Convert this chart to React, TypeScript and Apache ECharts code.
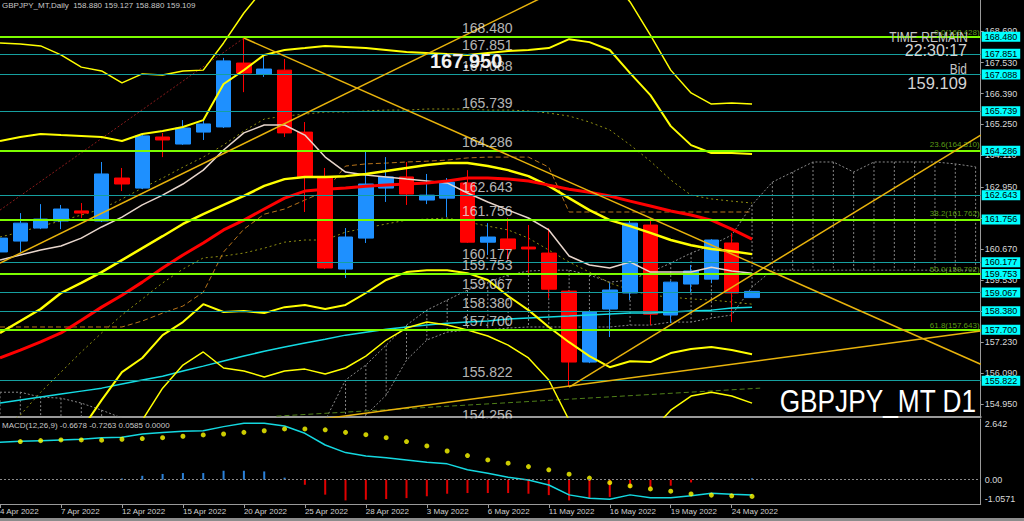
import React, { useEffect, useRef } from 'react';
import * as echarts from 'echarts';

const FONT = '"Liberation Sans", Arial, sans-serif';

const dates = ['4 Apr 2022','5 Apr 2022','6 Apr 2022','7 Apr 2022','8 Apr 2022','11 Apr 2022','12 Apr 2022','13 Apr 2022','14 Apr 2022','15 Apr 2022','18 Apr 2022','19 Apr 2022','20 Apr 2022','21 Apr 2022','22 Apr 2022','25 Apr 2022','26 Apr 2022','27 Apr 2022','28 Apr 2022','29 Apr 2022','2 May 2022','3 May 2022','4 May 2022','5 May 2022','6 May 2022','9 May 2022','10 May 2022','11 May 2022','12 May 2022','13 May 2022','16 May 2022','17 May 2022','18 May 2022','19 May 2022','20 May 2022','23 May 2022','24 May 2022','25 May 2022'];

const opens = [160.56,160.96,161.44,161.70,162.07,161.70,163.28,162.91,164.79,164.53,164.97,165.16,167.51,167.11,167.25,164.97,163.28,159.93,161.07,162.91,163.32,162.47,162.54,163.10,160.92,161.04,160.74,160.52,159.12,156.51,158.46,159.05,161.55,158.24,159.38,159.56,160.89,158.88];
const closes = [161.07,161.62,161.77,162.14,161.99,163.43,163.06,164.83,164.68,165.12,165.27,167.59,167.14,167.29,164.94,163.32,159.97,161.11,163.06,163.32,162.69,162.65,163.13,160.92,161.11,160.67,160.67,159.19,156.51,158.35,159.16,161.62,158.27,159.45,159.86,161.00,159.05,159.109];
const lows = [160.52,160.56,161.40,161.40,161.81,161.66,162.80,162.87,164.05,164.50,164.68,165.12,166.44,167.00,164.79,162.03,159.93,159.60,160.89,162.40,162.29,162.32,161.84,160.89,160.45,160.26,159.78,158.86,155.59,156.47,157.43,158.79,157.87,157.95,159.08,159.41,157.98,158.88];
const highs = [161.15,161.99,162.32,162.29,162.36,163.87,163.65,164.90,164.94,165.41,165.45,167.70,168.43,167.84,167.66,165.34,163.65,161.44,164.27,164.05,163.87,163.43,163.28,163.57,161.62,161.81,161.55,161.44,159.16,158.42,159.41,161.77,161.81,159.49,160.08,161.03,161.26,159.127];

const maRed = [156.66,156.95,157.25,157.58,158.05,158.53,158.97,159.45,159.97,160.45,160.89,161.37,161.73,162.14,162.54,162.80,162.87,162.91,162.98,163.02,163.06,163.10,163.17,163.28,163.28,163.24,163.17,163.02,162.87,162.76,162.62,162.43,162.25,162.07,161.92,161.73,161.40,161.03];
const maFast = [160.26,160.45,160.63,160.78,161.07,161.48,161.84,162.29,162.65,163.06,163.57,164.31,164.94,165.23,165.23,164.86,164.05,163.50,163.39,163.32,163.24,163.17,163.10,162.73,162.40,162.10,161.81,161.37,160.41,160.08,159.97,160.19,159.82,159.82,159.82,160.00,159.86,159.78];
const maLong = [155.00,155.11,155.22,155.33,155.44,155.55,155.70,155.85,155.99,156.18,156.36,156.55,156.73,156.91,157.06,157.21,157.35,157.50,157.61,157.72,157.80,157.87,157.94,157.98,158.02,158.09,158.13,158.17,158.20,158.24,158.28,158.31,158.31,158.35,158.39,158.42,158.50,158.53];
const bbMid = [157.58,158.02,158.46,159.05,159.42,159.82,160.26,160.70,161.14,161.59,161.95,162.29,162.62,162.99,163.24,163.32,163.32,163.35,163.43,163.54,163.65,163.76,163.83,163.83,163.72,163.57,163.35,162.99,162.54,162.10,161.73,161.51,161.26,161.00,160.81,160.67,160.59,160.48];
const bbUp2 = [164.64,164.79,164.90,164.86,164.83,164.79,164.64,164.90,165.01,165.16,165.41,166.74,167.25,167.81,167.99,168.06,168.14,168.10,168.06,167.99,167.92,167.88,167.84,167.81,167.88,167.95,167.99,168.06,168.39,168.28,167.99,167.14,166.33,165.19,164.49,164.20,164.20,164.16];
const bbUp3 = [168.25,168.21,168.14,167.81,167.36,167.22,166.78,167.11,167.07,167.22,167.25,168.25,169.35,170.27,170.57,170.71,170.79,170.82,170.82,170.79,170.75,170.71,170.71,170.71,170.75,170.79,170.82,170.86,170.93,170.86,170.64,169.76,168.54,167.25,166.41,166.00,166.04,166.00];
const bbLow2 = [150.51,151.25,152.02,153.23,154.01,155.11,156.14,156.66,157.50,157.98,158.64,158.35,158.39,158.31,158.53,158.61,158.46,158.61,159.05,159.53,159.82,159.89,159.89,159.78,159.53,158.94,158.42,157.80,157.24,156.73,156.32,156.54,156.51,156.84,156.99,157.06,156.95,156.80];
const bbLow3 = [146.98,147.86,148.82,150.33,151.32,152.31,153.45,154.37,155.55,156.40,156.88,156.29,156.18,155.96,156.18,156.25,156.07,156.29,156.73,157.32,157.76,157.98,157.87,157.69,157.47,157.13,156.66,155.85,154.37,153.64,153.27,153.64,153.93,154.74,155.26,155.40,155.26,155.00];

const ichiLineA = [161.11,161.29,161.51,161.70,161.92,162.14,162.51,162.91,163.28,163.68,164.05,164.50,165.01,165.45,165.56,165.63,165.71,165.71,165.75,165.78,165.78,165.82,165.82,165.82,165.78,165.78,165.75,165.67,165.56,165.34,165.05,164.50,163.90,163.21,162.65,162.51,162.43,162.36];
const ichiLineB = [154.01,154.56,155.40,156.14,156.88,157.58,158.24,158.83,159.42,159.93,160.34,160.41,160.52,160.70,160.92,161.00,161.00,161.29,161.44,161.59,161.73,161.77,161.81,161.66,161.51,161.37,161.07,160.63,160.19,159.82,159.42,159.16,158.97,158.90,158.83,158.79,158.72,158.64];
const kijun = [157.80,157.80,157.80,157.80,157.80,157.80,157.80,158.02,158.31,158.57,159.08,160.56,161.40,161.95,162.14,162.47,162.80,163.72,163.80,163.83,163.87,163.90,163.94,164.02,164.05,164.05,164.05,163.68,162.03,162.03,162.03,162.03,162.03,162.03,162.03,162.03,162.03,162.03];
const cloudTop = [155.40,155.40,155.22,155.18,155.00,154.74,154.45,154.19,154.01,153.93,153.93,153.93,153.93,153.93,154.01,154.08,154.37,155.85,156.40,157.13,157.87,158.42,158.79,159.16,159.45,159.71,159.86,159.89,159.89,159.71,159.45,159.53,159.82,160.15,160.52,160.81,161.18,162.29,163.13,163.50,163.87,163.87,163.50,163.87,163.87,163.87,163.87,163.80,163.69];
const cloudBottom = [153.64,153.64,153.64,153.64,153.64,153.64,153.64,153.64,153.64,153.64,153.64,153.64,153.64,153.64,153.64,153.64,153.64,154.01,154.56,155.29,156.58,157.32,157.61,157.69,157.69,157.76,157.80,157.80,157.80,157.80,157.80,157.87,157.87,157.98,157.98,158.13,158.24,159.27,159.89,159.89,159.89,159.89,159.89,159.89,159.89,159.89,159.89,159.89,159.89];

const trendDown = [[12, 168.43], [48.25, 156.43]];
const trendUpA = [[0, 160.15], [30, 171.14]];
const trendUpB = [[28, 155.59], [48.25, 164.86]];
const trendUpC = [[10, 153.83], [48.25, 157.65]];
const trendRedDot = [[0, 162.10], [12, 168.43]];
const trendGreenDash = [[13.6, 154.52], [37.4, 155.55]];

const greenLevels = [168.480, 164.286, 161.756, 159.753, 157.700];
const cyanLevels = [167.851, 167.088, 165.739, 162.643, 160.177, 159.067, 158.380, 155.822];
const extraLabelLevels = [154.256];
const fibNames = ['0.0', '23.6', '38.2', '50.0', '61.8'];
const fibLevels = [168.428, 164.310, 161.762, 159.702, 157.643];
const priceTicks = [168.690, 167.530, 166.390, 165.250, 164.110, 162.950, 161.810, 160.670, 159.530, 158.390, 157.230, 156.090, 154.950];

const macdLine = [1.63,1.67,1.70,1.73,1.76,1.83,1.85,1.99,2.05,2.11,2.13,2.31,2.46,2.46,2.34,2.02,1.51,1.18,1.03,0.96,0.86,0.76,0.69,0.43,0.28,0.11,-0.01,-0.23,-0.66,-0.81,-0.85,-0.66,-0.78,-0.78,-0.70,-0.59,-0.63,-0.6678];
const macdSignal = [null,1.66,1.70,1.73,1.73,1.72,1.76,1.79,1.83,1.89,1.95,1.99,2.06,2.13,2.21,2.21,2.17,2.06,1.96,1.83,1.66,1.47,1.25,1.05,0.86,0.72,0.57,0.43,0.24,0.07,-0.13,-0.27,-0.40,-0.50,-0.62,-0.67,-0.70,-0.7263];
const macdHist = [0.01,0.02,0.02,0.02,0.02,0.04,0.05,0.17,0.25,0.29,0.29,0.39,0.39,0.36,0.09,-0.22,-0.65,-0.90,-0.87,-0.84,-0.80,-0.72,-0.61,-0.58,-0.58,-0.58,-0.61,-0.67,-0.90,-0.84,-0.75,-0.36,-0.36,-0.26,-0.12,0.02,0.02,0.0585];
const macdTicks = [2.642, 0, -1.0571];
const macdTickLabels = ['2.642', '0.00', '-1.0571'];

const X_MAX = 48.25;
const GRID_RIGHT = 43.3;
const PRICE_MIN = 154.488;
const PRICE_MAX = 169.83;
const LEVEL_LABEL_X = 22.75;
const dateTickIdx = [0, 3, 6, 9, 12, 15, 18, 21, 24, 27, 30, 33, 36];

function lineSeries(values: (number | null)[], color: string, width: number, type: any = 'solid', z = 4) {
  return {
    type: 'line', xAxisIndex: 0, yAxisIndex: 0, silent: true, z,
    data: values.map((v, i) => [i, v]),
    symbol: 'none', showSymbol: false, clip: true,
    lineStyle: { color, width, type },
  };
}
function segSeries(pts: number[][], color: string, width: number, type: any = 'solid', z = 5) {
  return {
    type: 'line', xAxisIndex: 0, yAxisIndex: 0, silent: true, z,
    data: pts, symbol: 'none', showSymbol: false, clip: true,
    lineStyle: { color, width, type },
  };
}

export default function App() {
  const ref = useRef<HTMLDivElement>(null);
  useEffect(() => {
    const chart = echarts.init(ref.current as HTMLDivElement, null, { renderer: 'svg' });
    const axisGray = '#9a9a9a';
    const levelItems = [
      ...greenLevels.map((v) => ({ yAxis: v, name: v.toFixed(3), lineStyle: { color: '#7cfc00', width: 2, type: 'solid' } })),
      ...cyanLevels.map((v) => ({ yAxis: v, name: v.toFixed(3), lineStyle: { color: '#169f9f', width: 1.2, type: 'solid' } })),
    ];
    const option: any = {
      animation: false,
      backgroundColor: '#000000',
      textStyle: { fontFamily: FONT },
      grid: [
        { left: 0, right: GRID_RIGHT, top: 0, height: 417, outerBoundsMode: 'none' },
        { left: 0, right: GRID_RIGHT, top: 419, height: 85, outerBoundsMode: 'none' },
      ],
      xAxis: [
        { type: 'value', gridIndex: 0, min: 0, max: X_MAX,
          axisLine: { show: true, onZero: false, lineStyle: { color: axisGray, width: 2 } },
          axisTick: { show: false }, axisLabel: { show: false }, splitLine: { show: false } },
        { type: 'value', gridIndex: 1, min: 0, max: X_MAX,
          axisLine: { show: true, onZero: false, lineStyle: { color: axisGray, width: 1 } },
          axisTick: { show: true, customValues: dateTickIdx, length: 4, lineStyle: { color: axisGray } },
          axisLabel: { show: true, customValues: dateTickIdx, formatter: (v: number) => dates[Math.round(v)] || '',
            align: 'left', margin: 3, color: '#cfcfcf', fontSize: 8, fontFamily: FONT },
          splitLine: { show: false } },
      ],
      yAxis: [
        { type: 'value', gridIndex: 0, position: 'right', min: PRICE_MIN, max: PRICE_MAX,
          axisLine: { show: true, onZero: false, lineStyle: { color: axisGray, width: 1 } },
          axisTick: { show: true, customValues: priceTicks, length: 3, lineStyle: { color: axisGray } },
          axisLabel: { show: true, customValues: priceTicks, formatter: (v: number) => v.toFixed(3),
            color: '#d8d8d8', fontSize: 9, margin: 4, fontFamily: FONT },
          splitLine: { show: false } },
        { type: 'value', gridIndex: 1, position: 'right', min: -1.0571, max: 2.642,
          axisLine: { show: true, onZero: false, lineStyle: { color: axisGray, width: 1 } },
          axisTick: { show: false },
          axisLabel: { show: true, customValues: macdTicks,
            formatter: (v: number) => {
              const k = macdTicks.findIndex((t) => Math.abs(t - v) < 1e-6);
              if (k === 0) return '{top|' + macdTickLabels[0] + '}';
              if (k === 2) return '{bot|' + macdTickLabels[2] + '}';
              return k === 1 ? macdTickLabels[1] : '';
            },
            rich: { top: { padding: [10, 0, 0, 0], color: '#d8d8d8', fontSize: 9 }, bot: { padding: [0, 0, 10, 0], color: '#d8d8d8', fontSize: 9 } },
            color: '#d8d8d8', fontSize: 9, margin: 4, fontFamily: FONT },
          splitLine: { show: false } },
      ],
      series: [
        { type: 'custom', xAxisIndex: 0, yAxisIndex: 0, silent: true, clip: true, z: 1,
          data: cloudTop.map((t, i) => [i, t, cloudBottom[i]]),
          encode: { x: 0, y: [1, 2] },
          renderItem: (params: any, api: any) => {
            const a = api.coord([api.value(0), api.value(1)]);
            const b = api.coord([api.value(0), api.value(2)]);
            return { type: 'line', shape: { x1: a[0], y1: a[1], x2: b[0], y2: b[1] },
              style: { stroke: '#858585', lineWidth: 1, lineDash: [2, 2] } };
          } },
        { type: 'line', xAxisIndex: 0, yAxisIndex: 0, silent: true, z: 1, symbol: 'none', clip: true,
          data: cloudTop.map((v, i) => [i, v]), lineStyle: { color: '#8a8a8a', width: 1, type: [2, 2] } },
        { type: 'line', xAxisIndex: 0, yAxisIndex: 0, silent: true, z: 1, symbol: 'none', clip: true,
          data: cloudBottom.map((v, i) => [i, v]), lineStyle: { color: '#8a8a8a', width: 1, type: [2, 2] } },
        lineSeries(ichiLineA, '#8f8f12', 1, [2, 3], 2),
        lineSeries(ichiLineB, '#8f8f12', 1, [2, 3], 2),
        lineSeries(kijun, '#b8741a', 1, [5, 3], 2),
        segSeries(trendRedDot, '#8b1c1c', 1, [2, 2], 2),
        segSeries(trendGreenDash, '#4f7f18', 1, [5, 3], 2),
        { type: 'candlestick', xAxisIndex: 0, yAxisIndex: 0, silent: true, z: 3, barWidth: 15,
          data: opens.map((o, i) => [i, o, closes[i], lows[i], highs[i]]),
          itemStyle: { color: '#1e90ff', color0: '#ff0000', borderColor: '#1e90ff', borderColor0: '#ff0000', borderWidth: 1 } },
        lineSeries(maLong, '#14dbe3', 1.5, 'solid', 4),
        lineSeries(maFast, '#e8d6cc', 1.5, 'solid', 4),
        lineSeries(bbUp3, '#ffff00', 1.5, 'solid', 4),
        lineSeries(bbLow3, '#ffff00', 1.5, 'solid', 4),
        lineSeries(bbUp2, '#ffff00', 2, 'solid', 4),
        lineSeries(bbLow2, '#ffff00', 2, 'solid', 4),
        lineSeries(bbMid, '#ffff00', 2.5, 'solid', 4),
        lineSeries(maRed, '#ff0000', 3, 'solid', 4),
        segSeries(trendDown, '#e8b30c', 1.5),
        segSeries(trendUpA, '#e8b30c', 1.5),
        segSeries(trendUpB, '#e8b30c', 1.5),
        segSeries(trendUpC, '#e8b30c', 1.5),
        { type: 'line', xAxisIndex: 0, yAxisIndex: 0, data: [], z: 6, silent: true,
          markLine: { symbol: 'none', silent: true, animation: false, precision: 3,
            label: { show: true, position: 'end', formatter: (p: any) => p.name,
              backgroundColor: '#00ffff', color: '#000000', fontSize: 9, padding: [1, 3, 0, 3], distance: 1, fontFamily: FONT },
            data: levelItems } },
        { type: 'scatter', xAxisIndex: 0, yAxisIndex: 0, clip: false, silent: true, z: 7, symbolSize: 1,
          itemStyle: { color: 'rgba(0,0,0,0)' },
          data: [...greenLevels, ...cyanLevels, ...extraLabelLevels].map((v) => [LEVEL_LABEL_X, v]),
          label: { show: true, position: [0, 0], align: 'left', verticalAlign: 'bottom', offset: [0, -1],
            formatter: (p: any) => Number(p.value[1]).toFixed(3), color: '#e4e4e4', fontSize: 14, fontFamily: FONT } },
        { type: 'scatter', xAxisIndex: 0, yAxisIndex: 0, clip: false, silent: true, z: 7, symbolSize: 1,
          itemStyle: { color: 'rgba(0,0,0,0)' },
          data: fibLevels.map((v) => [X_MAX - 0.03, v]),
          label: { show: true, position: [0, 0], align: 'right', verticalAlign: 'bottom', offset: [0, -1],
            formatter: (p: any) => fibNames[p.dataIndex] + '(' + fibLevels[p.dataIndex].toFixed(3) + ')',
            color: '#74c21c', fontSize: 8, fontFamily: FONT } },
        { type: 'bar', xAxisIndex: 1, yAxisIndex: 1, silent: true, z: 2, barWidth: 2,
          data: macdHist.map((v, i) => ({ value: [i, v], itemStyle: { color: v >= 0 ? '#2a80d8' : '#e00000' } })) },
        { type: 'line', xAxisIndex: 1, yAxisIndex: 1, silent: true, z: 3, symbol: 'none',
          data: macdLine.map((v, i) => [i, v]), lineStyle: { color: '#14d8e0', width: 1.5 },
          markLine: { symbol: 'none', silent: true, label: { show: false },
            lineStyle: { color: '#8a8a8a', type: [2, 2], width: 1 }, data: [{ yAxis: 0 }] } },
        { type: 'scatter', xAxisIndex: 1, yAxisIndex: 1, silent: true, z: 4, symbolSize: 5,
          itemStyle: { color: '#ffff00' },
          data: macdSignal.map((v, i) => [i, v]).filter((d) => d[1] !== null) },
      ],
      graphic: [
        { type: 'text', x: 2, y: 5, z: 50, style: { text: 'GBPJPY_MT,Daily  158.880 159.127 158.880 159.109', fill: '#c8c8c8', font: '8px ' + FONT, textVerticalAlign: 'middle' } },
        { type: 'text', x: 2, y: 425, z: 50, style: { text: 'MACD(12,26,9) -0.6678 -0.7263 0.0585 0.0000', fill: '#c8c8c8', font: '8px ' + FONT, textVerticalAlign: 'middle' } },
        { type: 'text', x: 968, y: 37.5, scaleX: 0.86, z: 50, style: { text: 'TIME REMAIN', fill: '#c4c4c4', font: '14px ' + FONT, textAlign: 'right', textVerticalAlign: 'middle' } },
        { type: 'text', x: 967, y: 50, scaleX: 0.94, z: 50, style: { text: '22:30:17', fill: '#d4d4d4', font: '17px ' + FONT, textAlign: 'right', textVerticalAlign: 'middle' } },
        { type: 'text', x: 967, y: 69.5, scaleX: 0.85, z: 50, style: { text: 'Bid', fill: '#c4c4c4', font: '14px ' + FONT, textAlign: 'right', textVerticalAlign: 'middle' } },
        { type: 'text', x: 967, y: 82.5, z: 50, style: { text: '159.109', fill: '#d4d4d4', font: '16.5px ' + FONT, textAlign: 'right', textVerticalAlign: 'middle' } },
        { type: 'text', x: 976, y: 401.5, scaleX: 0.82, z: 50, style: { text: 'GBPJPY_MT D1', fill: '#ffffff', font: '32px ' + FONT, textAlign: 'right', textVerticalAlign: 'middle' } },
        { type: 'text', x: 430, y: 61, z: 50, style: { text: '167.950', fill: '#f2f2f2', font: 'bold 20px ' + FONT, textVerticalAlign: 'middle' } },
        { type: 'rect', x: 455, y: 418.6, z: 100, shape: { width: 70, height: 10 }, style: { fill: '#000000' } },
        { type: 'rect', x: 0, y: 518, z: 100, shape: { width: 1024, height: 3 }, style: { fill: '#8c8c8c' } },
      ],
    };
    chart.setOption(option);
    return () => chart.dispose();
  }, []);
  return <div ref={ref} style={{ position: 'fixed', left: 0, top: 0, width: 1024, height: 521, background: '#000' }} />;
}
